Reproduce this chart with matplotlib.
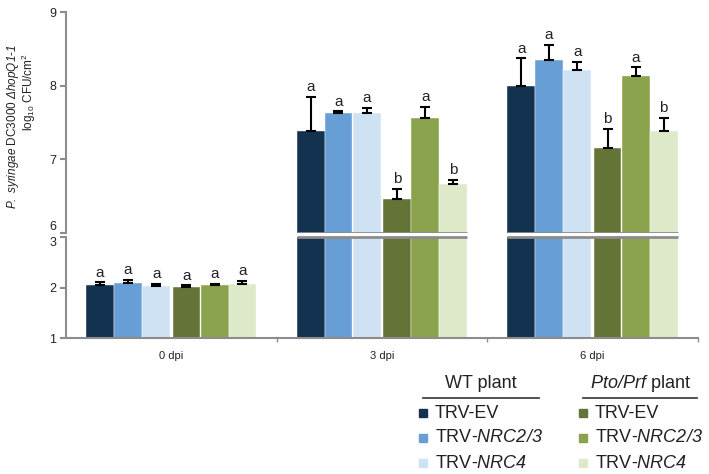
# Bacterial growth bar chart with broken y axis
import numpy as np
import matplotlib.pyplot as plt
from matplotlib.lines import Line2D
from matplotlib.patches import Rectangle

plt.rcParams['font.family'] = 'Liberation Sans'
plt.rcParams['mathtext.fontset'] = 'custom'
# italic for everything inside $...$ (digits too), sf kept upright
plt.rcParams['mathtext.rm'] = 'Liberation Sans:italic'
plt.rcParams['mathtext.it'] = 'Liberation Sans:italic'
plt.rcParams['mathtext.sf'] = 'Liberation Sans'

# data
days = ['0 dpi', '3 dpi', '6 dpi']
labels = ['TRV-EV', 'TRV-$NRC2/3$', 'TRV-$NRC4$',
          'TRV-EV', 'TRV-$NRC2/3$', 'TRV-$NRC4$']

wt_ev = [2.05, 7.38, 8.00]
wt_nrc23 = [2.08, 7.63, 8.35]
wt_nrc4 = [2.02, 7.63, 8.21]
pp_ev = [2.01, 6.46, 7.16]
pp_nrc23 = [2.04, 7.56, 8.13]
pp_nrc4 = [2.07, 6.67, 7.39]

wt_ev_err = [0.05, 0.47, 0.37]
wt_nrc23_err = [0.07, 0.02, 0.20]
wt_nrc4_err = [0.05, 0.07, 0.11]
pp_ev_err = [0.03, 0.14, 0.25]
pp_nrc23_err = [0.03, 0.15, 0.12]
pp_nrc4_err = [0.06, 0.05, 0.17]

wt_ev_let = ['a', 'a', 'a']
wt_nrc23_let = ['a', 'a', 'a']
wt_nrc4_let = ['a', 'a', 'a']
pp_ev_let = ['a', 'b', 'b']
pp_nrc23_let = ['a', 'a', 'a']
pp_nrc4_let = ['a', 'b', 'b']

means = [wt_ev, wt_nrc23, wt_nrc4, pp_ev, pp_nrc23, pp_nrc4]
errs = [wt_ev_err, wt_nrc23_err, wt_nrc4_err, pp_ev_err, pp_nrc23_err, pp_nrc4_err]
lets = [wt_ev_let, wt_nrc23_let, wt_nrc4_let, pp_ev_let, pp_nrc23_let, pp_nrc4_let]
colors = ['#123250', '#689ED6', '#CFE2F3', '#647436', '#8AA24C', '#DEE9CA']

offsets = [-0.338, -0.206, -0.072, 0.072, 0.206, 0.338]
width = 0.132
gray = '#8c8c8c'

fig = plt.figure(figsize=(7.09, 4.74), dpi=100)
ax_top = fig.add_axes([0.0931, 0.5084, 0.891, 0.4662])
ax_bot = fig.add_axes([0.0931, 0.2869, 0.891, 0.2131])

x = np.arange(len(days))
for ax in (ax_top, ax_bot):
    for s in range(6):
        ax.bar(x + offsets[s], means[s], width, color=colors[s],
               edgecolor='white', linewidth=0.3, zorder=2)
    ax.set_xlim(-0.5, 2.5)
    for side in ('top', 'right'):
        ax.spines[side].set_visible(False)
    ax.spines['left'].set_color(gray)
    ax.spines['left'].set_linewidth(1.5)
    ax.tick_params(axis='y', colors=gray, length=4, width=1.5,
                   labelsize=9, labelcolor='#222222', pad=3)

ax_top.set_ylim(6, 9)
ax_top.set_yticks([6, 7, 8, 9])
ax_top.spines['bottom'].set_visible(False)
ax_top.set_xticks([])

ax_bot.set_ylim(1, 3)
ax_bot.set_yticks([1, 2, 3])
ax_bot.spines['bottom'].set_color(gray)
ax_bot.spines['bottom'].set_linewidth(1.5)
ax_bot.set_xticks(x)
ax_bot.set_xticklabels(days, fontsize=8, color='#222222')
ax_bot.tick_params(axis='x', length=0, pad=9)
ax_bot.set_xticks([0.5, 1.5, 2.5], minor=True)
ax_bot.tick_params(axis='x', which='minor', length=3, width=1, color=gray)

# keep "6" and "3" apart at the break
ax_top.get_yticklabels()[0].set_va('bottom')
ax_bot.get_yticklabels()[-1].set_va('top')

# error bars and letters
for s in range(6):
    for d in range(len(days)):
        ax = ax_top if means[s][d] > 3 else ax_bot
        xp = x[d] + offsets[s]
        ax.errorbar(xp, means[s][d], yerr=[[0], [errs[s][d]]], fmt='none',
                    ecolor='black', elinewidth=1.5, capsize=3.5, capthick=1.5,
                    zorder=3)
        ax.annotate(lets[s][d], (xp, means[s][d] + errs[s][d]),
                    xytext=(0, 2), textcoords='offset points',
                    ha='center', va='bottom', fontsize=11, color='#222222')

# break lines across broken bar groups
for d in range(len(days)):
    if min(means[s][d] for s in range(6)) > 3:
        x0 = x[d] + offsets[0] - width / 2
        x1 = x[d] + offsets[-1] + width / 2
        ax_top.hlines(6, x0, x1, color=gray, linewidth=2, zorder=4)
        ax_bot.hlines(3, x0, x1, color=gray, linewidth=2, zorder=4, clip_on=False)

# y label
fig.text(13 / 709, 1 - 127 / 474,
         '$P.\\ syringae$ DC3000 $\\Delta hopQ1$-$1$',
         rotation=90, ha='center', va='center', fontsize=8.5, color='#222222')
fig.text(29 / 709, 1 - 92 / 474, 'log$_{\\mathsf{10}}$ CFU/cm$^{\\mathsf{2}}$',
         rotation=90, ha='center', va='center', fontsize=8.5, color='#222222')

# legend
headers = ['WT plant', '$Pto/Prf$ plant']
ul = [(423, 539), (583, 697)]
sq_x = [423, 583]
txt_x = [435, 595]
rows_y = [413, 438, 463]
for c in range(2):
    xa, xb = ul[c]
    fig.text((xa + xb) / 2 / 709, 1 - 383 / 474, headers[c], ha='center',
             va='center', fontsize=13, color='#222222')
    fig.add_artist(Line2D([xa / 709, xb / 709], [1 - 398 / 474, 1 - 398 / 474],
                          color='#333333', linewidth=1.2))
    for r in range(3):
        s = c * 3 + r
        fig.add_artist(Rectangle(((sq_x[c] - 4) / 709, 1 - (rows_y[r] + 4) / 474),
                                 8 / 709, 8 / 474, color=colors[s]))
        fig.text(txt_x[c] / 709, 1 - rows_y[r] / 474, labels[s], ha='left',
                 va='center', fontsize=13, color='#222222')

fig.savefig('out.png', dpi=100)
